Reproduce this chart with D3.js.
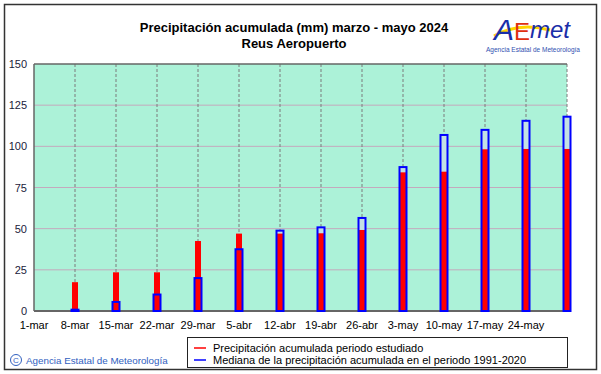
<!DOCTYPE html>
<html>
<head>
<meta charset="utf-8">
<script src="https://cdn.jsdelivr.net/npm/d3@7"></script>
<style>
  body { margin: 0; background: #fff; }
  text { font-family: "Liberation Sans", Arial, sans-serif; }
</style>
</head>
<body>
<svg id="chart" width="601" height="374"></svg>
<script>
// Weeks on the x axis (last one has no label)
var weeks = ["1-mar", "8-mar", "15-mar", "22-mar", "29-mar", "5-abr", "12-abr", "19-abr",
             "26-abr", "3-may", "10-may", "17-may", "24-may", "31-may"];
var tickLabels = weeks.slice(0, 13);
// Bars from 8-mar to 31-may
var barWeeks = weeks.slice(1);
var observed = [17.5, 23.5, 23.5, 42.5, 47, 47, 47.2, 49.2, 84.2, 84.6, 98.2, 98.4, 98.4];
var median = [0.8, 5.5, 10, 20, 37.5, 48.8, 50.8, 56.5, 87.4, 106.9, 110, 115.5, 118];
var yTicks = [0, 25, 50, 75, 100, 125, 150];

var svg = d3.select("#chart");

// Outer frame
svg.append("rect")
    .attr("x", 4.5).attr("y", 4.5)
    .attr("width", 592).attr("height", 365)
    .attr("fill", "#fff")
    .attr("stroke", "#333")
    .attr("stroke-width", 1.5);

var plotLeft = 34, plotRight = 567, plotTop = 64, plotBottom = 311;

var x = d3.scalePoint().domain(weeks).range([plotLeft, plotRight]);
var y = d3.scaleLinear().domain([0, 150]).range([plotBottom, plotTop]);

// Plot background
svg.append("rect")
    .attr("x", plotLeft).attr("y", plotTop)
    .attr("width", plotRight - plotLeft).attr("height", plotBottom - plotTop)
    .attr("fill", "#acf2d8");

// Horizontal grid
svg.selectAll(".hgrid")
    .data(yTicks.slice(1, 6))
    .enter().append("line")
    .attr("x1", plotLeft).attr("x2", plotRight)
    .attr("y1", function(d) { return y(d); })
    .attr("y2", function(d) { return y(d); })
    .attr("stroke", "#c4a9bd")
    .attr("stroke-width", 1);

// Vertical dashed grid
svg.selectAll(".vgrid")
    .data(weeks.slice(1))
    .enter().append("line")
    .attr("x1", function(d) { return x(d); })
    .attr("x2", function(d) { return x(d); })
    .attr("y1", plotTop).attr("y2", plotBottom)
    .attr("stroke", "#7a7a7a")
    .attr("stroke-width", 1)
    .attr("stroke-dasharray", "3 2");

// Plot border
svg.append("line")
    .attr("x1", plotLeft).attr("x2", plotRight)
    .attr("y1", plotTop).attr("y2", plotTop)
    .attr("stroke", "#666").attr("stroke-width", 1.5);
svg.append("line")
    .attr("x1", plotLeft).attr("x2", plotLeft)
    .attr("y1", plotTop).attr("y2", plotBottom)
    .attr("stroke", "#666").attr("stroke-width", 1.5);
svg.append("line")
    .attr("x1", plotLeft).attr("x2", plotRight)
    .attr("y1", plotBottom).attr("y2", plotBottom)
    .attr("stroke", "#666").attr("stroke-width", 2);

// Median boxes: light fill first
svg.selectAll(".medfill")
    .data(median)
    .enter().append("rect")
    .attr("x", function(d, i) { return x(barWeeks[i]) - 3.5; })
    .attr("y", function(d) { return y(d); })
    .attr("width", 7)
    .attr("height", function(d) { return plotBottom - y(d); })
    .attr("fill", "#c4e0e4");

// Observed bars
svg.selectAll(".obs")
    .data(observed)
    .enter().append("rect")
    .attr("x", function(d, i) { return x(barWeeks[i]) - 3; })
    .attr("y", function(d) { return y(d); })
    .attr("width", 6)
    .attr("height", function(d) { return plotBottom - y(d); })
    .attr("fill", "#ff0000");

// Median outlines
svg.selectAll(".med")
    .data(median)
    .enter().append("rect")
    .attr("x", function(d, i) { return x(barWeeks[i]) - 3.5; })
    .attr("y", function(d) { return y(d); })
    .attr("width", 7)
    .attr("height", function(d) { return plotBottom - y(d); })
    .attr("fill", "none")
    .attr("stroke", "#0000ff")
    .attr("stroke-width", 2);

// Y axis labels
svg.selectAll(".ylab")
    .data(yTicks)
    .enter().append("text")
    .attr("x", 27)
    .attr("y", function(d) { return y(d) + 4; })
    .attr("text-anchor", "end")
    .attr("font-size", 11)
    .attr("fill", "#1a1a3a")
    .text(function(d) { return d; });

// X axis labels
svg.selectAll(".xlab")
    .data(tickLabels)
    .enter().append("text")
    .attr("x", function(d) { return x(d); })
    .attr("y", 329)
    .attr("text-anchor", "middle")
    .attr("font-size", 11)
    .attr("fill", "#000")
    .text(function(d) { return d; });

// Title
svg.append("text")
    .attr("x", 294).attr("y", 32)
    .attr("text-anchor", "middle")
    .attr("font-size", 13).attr("font-weight", "bold")
    .text("Precipitación acumulada (mm) marzo - mayo 2024");
svg.append("text")
    .attr("x", 294).attr("y", 48)
    .attr("text-anchor", "middle")
    .attr("font-size", 13).attr("font-weight", "bold")
    .text("Reus Aeropuerto");

// Logo
var logo = svg.append("g");
logo.append("path")
    .attr("d", "M494,36 Q518,22 550,30")
    .attr("fill", "none").attr("stroke", "#ffd400").attr("stroke-width", 3);
logo.append("text")
    .attr("x", 494).attr("y", 40)
    .attr("font-size", 30).attr("font-style", "italic")
    .attr("fill", "#1a2ea8")
    .text("A");
logo.append("text")
    .attr("x", 514).attr("y", 40)
    .attr("font-size", 24)
    .attr("fill", "#e03010")
    .text("E");
logo.append("text")
    .attr("x", 530).attr("y", 38)
    .attr("font-size", 24).attr("font-style", "italic")
    .attr("fill", "#1a2ea8")
    .text("met");
logo.append("text")
    .attr("x", 533).attr("y", 52)
    .attr("text-anchor", "middle")
    .attr("font-size", 6.5)
    .attr("fill", "#3050b0")
    .text("Agencia Estatal de Meteorología");

// Legend
svg.append("rect")
    .attr("x", 187.5).attr("y", 337.5)
    .attr("width", 380).attr("height", 30)
    .attr("fill", "#fff")
    .attr("stroke", "#222").attr("stroke-width", 1);
var legendItems = [
    { color: "#ff0000", label: "Precipitación acumulada periodo estudiado" },
    { color: "#0000ff", label: "Mediana de la precipitación acumulada en el periodo 1991-2020" }
];
svg.selectAll(".leg")
    .data(legendItems)
    .enter().append("line")
    .attr("x1", 194).attr("x2", 206)
    .attr("y1", function(d, i) { return 348 + i * 12; })
    .attr("y2", function(d, i) { return 348 + i * 12; })
    .attr("stroke", function(d) { return d.color; })
    .attr("stroke-width", 1.5);
svg.selectAll(".legtext")
    .data(legendItems)
    .enter().append("text")
    .attr("x", 213)
    .attr("y", function(d, i) { return 352 + i * 12; })
    .attr("font-size", 11)
    .attr("fill", "#000")
    .text(function(d) { return d.label; });

// Footer
svg.append("circle")
    .attr("cx", 16).attr("cy", 360).attr("r", 5.5)
    .attr("fill", "none").attr("stroke", "#3060c0").attr("stroke-width", 1);
svg.append("text")
    .attr("x", 16).attr("y", 363)
    .attr("text-anchor", "middle")
    .attr("font-size", 8).attr("fill", "#3060c0")
    .text("C");
svg.append("text")
    .attr("x", 26).attr("y", 364)
    .attr("font-size", 9.8).attr("fill", "#3060c0")
    .text("Agencia Estatal de Meteorología");
</script>
</body>
</html>
